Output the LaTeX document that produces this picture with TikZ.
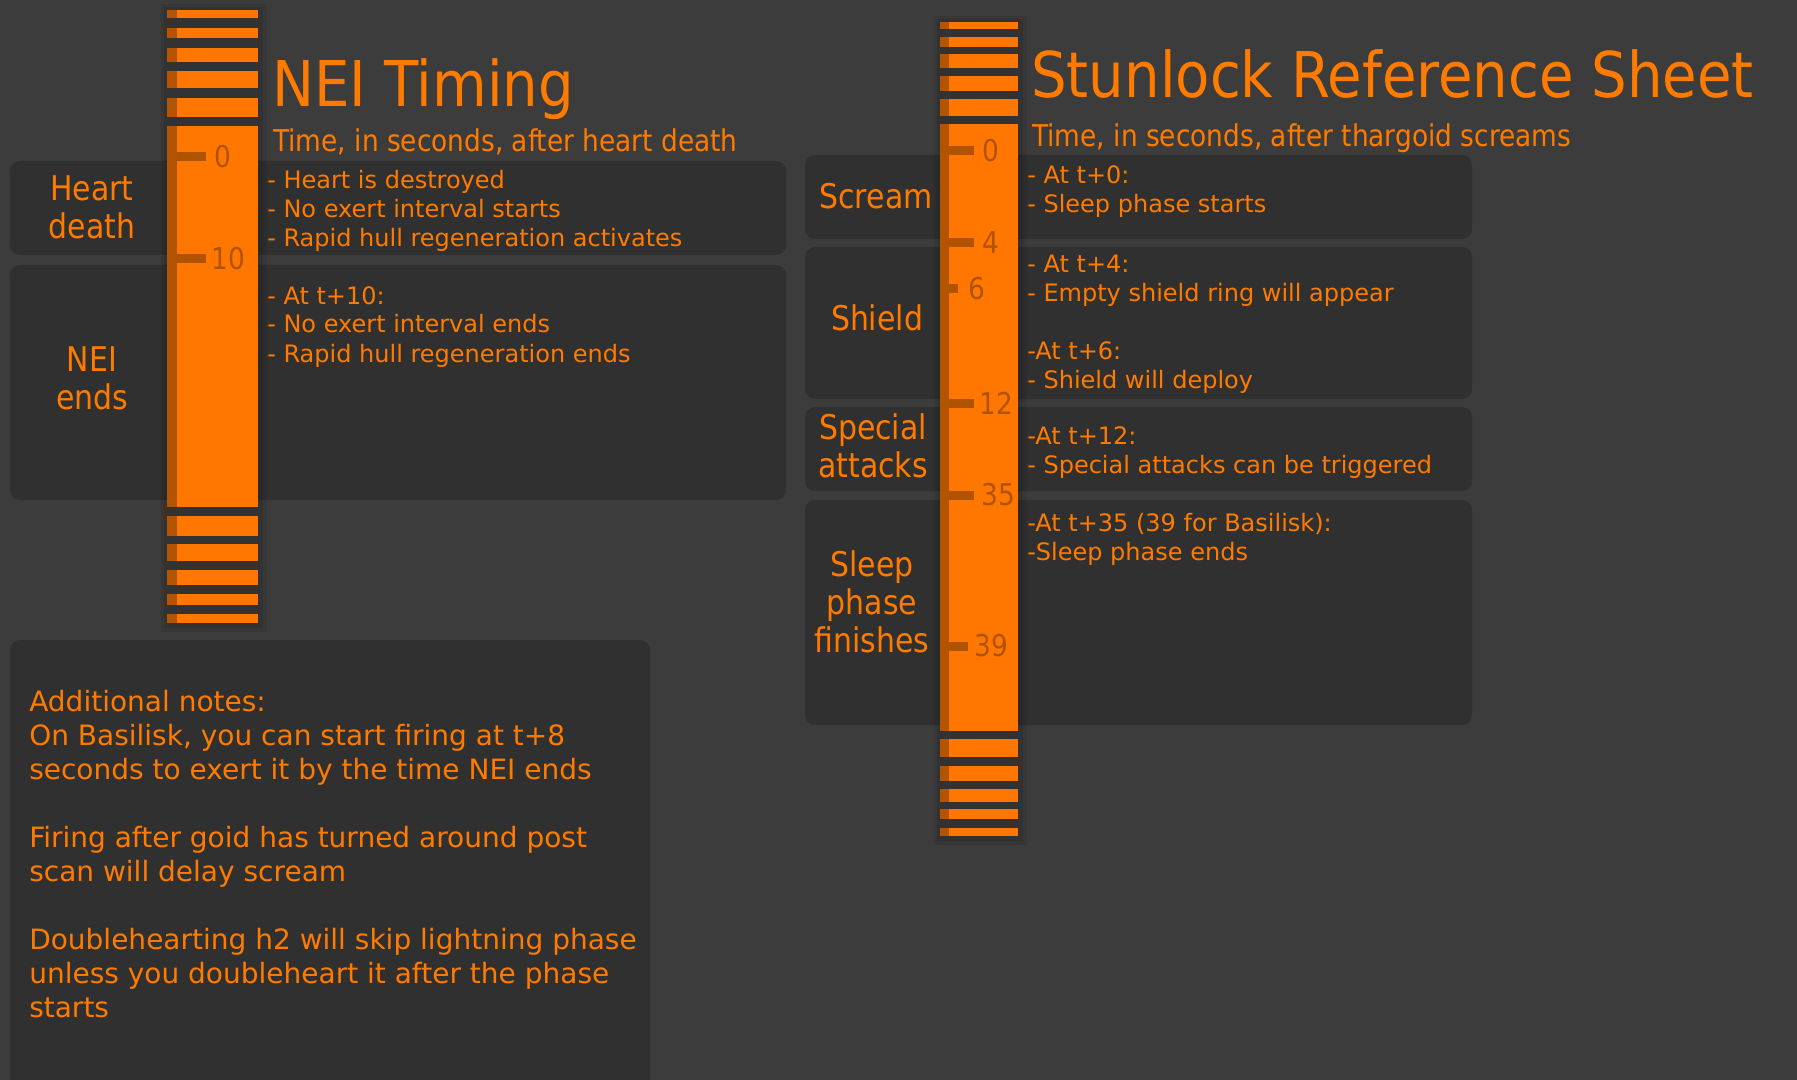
\documentclass[tikz,border=0pt]{standalone}
\usepackage{fontspec}
\setmainfont{DejaVu Sans}
\newfontfamily\headfont[FakeStretch=0.88]{DejaVu Sans}
\newfontfamily\bigheadfont[FakeStretch=0.89]{DejaVu Sans}
\usepackage{xcolor}
\usepackage{tikz}
\usetikzlibrary{positioning}
\definecolor{sheetbg}{HTML}{3C3C3C}
\definecolor{panelbg}{HTML}{303030}
\definecolor{rulerorange}{HTML}{FF7700}
\definecolor{rulerdark}{HTML}{B35400}
\definecolor{tickorange}{HTML}{B05300}
\definecolor{textorange}{HTML}{FF7B00}
\tikzset{
  panelbox/.style={
    fill=panelbg, rounded corners=7.5pt
  },
  rulerbar/.style={fill=rulerorange},
  rulerstripe/.style={fill=rulerdark},
  rulershadow/.style={fill=black, opacity=0.08},
  tickmark/.style={draw=tickorange, line width=6.75pt},
  ticknum/.style={
    font=\headfont\fontsize{22.5}{27}\selectfont, text=tickorange,
    anchor=west, inner sep=0pt
  },
  sheettitle/.style={
    font=\bigheadfont\fontsize{47.3}{56}\selectfont, text=textorange,
    anchor=base west, inner sep=0pt
  },
  sheetsub/.style={
    font=\headfont\fontsize{22.5}{27}\selectfont, text=textorange,
    anchor=base west, inner sep=0pt
  },
  phaselabel/.style={
    font=\headfont\fontsize{25.5}{28.5}\selectfont, text=textorange,
    align=center, inner sep=0pt
  },
  eventtext/.style={
    font=\fontsize{18}{21.75}\selectfont, text=textorange,
    align=left, anchor=base west, inner sep=0pt
  },
  notetext/.style={
    font=\fontsize{21}{25.5}\selectfont, text=textorange,
    align=left, anchor=base west, inner sep=0pt
  },
}

\begin{document}
\begin{tikzpicture}[x=0.75pt, y=-0.75pt]
  \useasboundingbox (0,0) rectangle (1797,1080);
  \clip (0,0) rectangle (1797,1080);
  \fill[sheetbg] (0,0) rectangle (1797,1080);

  % Panels
  \fill[panelbox] (10,161) rectangle (786,255);
  \fill[panelbox] (10,265) rectangle (786,500);
  \fill[panelbox] (805,155) rectangle (1472,239);
  \fill[panelbox] (805,247) rectangle (1472,399);
  \fill[panelbox] (805,407) rectangle (1472,491);
  \fill[panelbox] (805,500) rectangle (1472,725);
  \fill[panelbox] (10,640) rectangle (650,1100);

  % NEI ruler
  \fill[rulershadow] (161,4) rectangle (267,632);
  \fill[rulershadow] (164,7) rectangle (263,628);
  \foreach \ya/\yb in {10/18, 28/38, 48/62, 71/88, 98/117, 126/507,
                       516/536, 544/561, 570/585, 594/605, 614/623} {
    \fill[rulerbar] (167,\ya) rectangle (258,\yb);
    \fill[rulerstripe] (167,\ya) rectangle (177,\yb);
  }
  \draw[tickmark] (177,156.5) -- (206,156.5);
  \node[ticknum] (neitick0) at (214,156.5) {0};
  \draw[tickmark] (177,259) -- (206,259);
  \node[ticknum] (neitick10) at (211,259) {10};

  % Stunlock ruler
  \fill[rulershadow] (934,16) rectangle (1027,845);
  \fill[rulershadow] (937,19) rectangle (1023,841);
  \foreach \ya/\yb in {22/29, 37/47, 54/68, 76/91, 99/116, 124/731,
                       739/757, 766/781, 789/802, 809/819, 828/836} {
    \fill[rulerbar] (940,\ya) rectangle (1018,\yb);
    \fill[rulerstripe] (940,\ya) rectangle (949,\yb);
  }
  \foreach \ty/\tx/\lab/\lx in {151/974/0/982, 243/974/4/982,
      289/958/6/968, 403/974/12/979, 495/974/35/981, 646/968/39/974} {
    \draw[tickmark] (949,\ty) -- (\tx,\ty);
    \node[ticknum] (stuntick\lab) at (\lx,\ty) {\lab};
  }

  % NEI Timing
  \node[sheettitle] (neititle) at (272,107) {NEI Timing};
  \node[sheetsub] (neisub) at (273,152) {Time, in seconds, after heart death};
  \node[phaselabel] (heartlabel) at (92,207) {Heart\\death};
  \node[phaselabel] (neilabel) at (92,378) {NEI\\ends};
  \node[eventtext] (heartevents) at (267,247)
    {- Heart is destroyed\\- No exert interval starts\\- Rapid hull regeneration activates};
  \node[eventtext] (neievents) at (267,362)
    {- At t+10:\\- No exert interval ends\\- Rapid hull regeneration ends};

  % Stunlock Reference Sheet
  \node[sheettitle] (stuntitle) at (1031,98) {Stunlock Reference Sheet};
  \node[sheetsub] (stunsub) at (1032,147) {Time, in seconds, after thargoid screams};
  \node[phaselabel] (screamlabel) at (876,196) {Scream};
  \node[phaselabel] (shieldlabel) at (877,318) {Shield};
  \node[phaselabel] (speciallabel) at (873,445.5) {Special\\attacks};
  \node[phaselabel] (sleeplabel) at (872,602) {Sleep\\phase\\finishes};
  \node[eventtext] (screamevents) at (1027,213)
    {- At t+0:\\- Sleep phase starts};
  \node[eventtext] (shieldevents) at (1027,388)
    {- At t+4:\\- Empty shield ring will appear\\[21.75pt]-At t+6:\\- Shield will deploy};
  \node[eventtext] (specialevents) at (1027,473)
    {-At t+12:\\- Special attacks can be triggered};
  \node[eventtext] (sleepevents) at (1027,560)
    {-At t+35 (39 for Basilisk):\\-Sleep phase ends};

  % Additional notes
  \node[notetext] (notes) at (29,1017)
    {Additional notes:\\On Basilisk, you can start firing at t+8\\seconds to exert it by the time NEI ends\\[25.5pt]Firing after goid has turned around post\\scan will delay scream\\[25.5pt]Doublehearting h2 will skip lightning phase\\unless you doubleheart it after the phase\\starts};
\end{tikzpicture}
\end{document}
